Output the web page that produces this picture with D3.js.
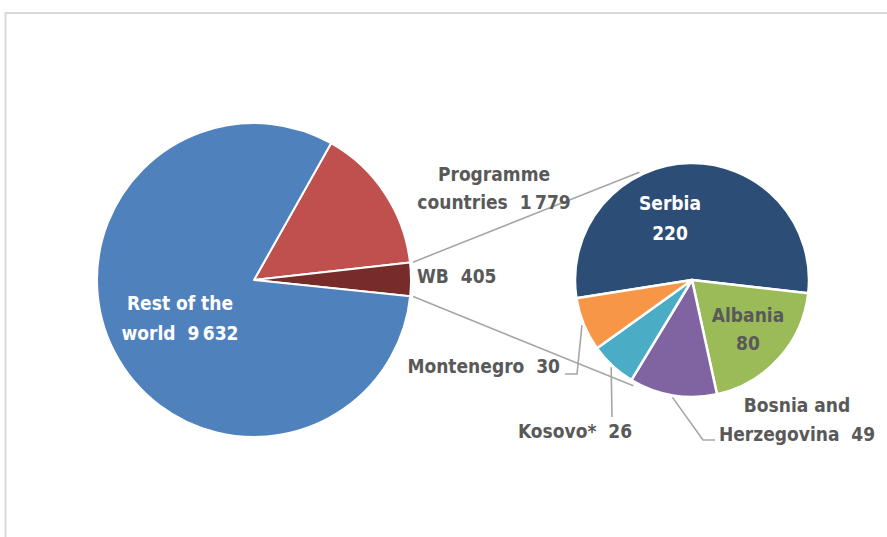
<!DOCTYPE html>
<html>
<head>
<meta charset="utf-8">
<script src="https://cdn.jsdelivr.net/npm/d3@7"></script>
<style>
  body { margin: 0; background: #ffffff; }
  text { font-family: "DejaVu Sans Condensed", "DejaVu Sans", sans-serif; font-weight: bold; white-space: pre; }
</style>
</head>
<body>
<div id="chart"></div>
<script>
// main pie data
const mainCategories = ["Programme countries", "WB", "Rest of the world"];
const mainValues = [1779, 405, 9632];
const mainBreaks = [["Programme", "countries"], ["WB"], ["Rest of the", "world"]];
// WB breakdown
const wbCategories = ["Serbia", "Albania", "Bosnia and Herzegovina", "Kosovo*", "Montenegro"];
const wbValues = [220, 80, 49, 26, 30];
const wbBreaks = [["Serbia", ""], ["Albania", ""], ["Bosnia and", "Herzegovina"], ["Kosovo*"], ["Montenegro"]];

const mainColors = ["#C0504D", "#772C2A", "#4F81BD"];
const wbColors = ["#2C4D75", "#9BBB59", "#8064A2", "#4BACC6", "#F79646"];

const width = 887, height = 537;
const textGray = "#595959", lineGray = "#A6A6A6";
const deg = Math.PI / 180;

const fmt = d3.formatLocale({decimal: ".", thousands: "\u2009", grouping: [3], currency: ["", ""]}).format(",d");

const svg = d3.select("#chart")
    .append("svg")
    .attr("width", width)
    .attr("height", height);

// chart area frame (runs off the right and bottom)
svg.append("rect")
    .attr("x", 5.5)
    .attr("y", 13)
    .attr("width", 1000)
    .attr("height", 1000)
    .attr("fill", "none")
    .attr("stroke", "#D9D9D9")
    .attr("stroke-width", 2);

const main = {cx: 254, cy: 280, r: 157};
const sub = {cx: 692, cy: 280, r: 117};

const mainPie = d3.pie().sort(null).startAngle(29.4 * deg).endAngle(29.4 * deg + 2 * Math.PI);
const subPie = d3.pie().sort(null).startAngle(-99 * deg).endAngle(-99 * deg + 2 * Math.PI);

const mainArcs = mainPie(mainValues);
const subArcs = subPie(wbValues);

const mainArc = d3.arc().innerRadius(0).outerRadius(main.r);
const subArc = d3.arc().innerRadius(0).outerRadius(sub.r);

function polar(p, a, r) {
    return [p.cx + r * Math.sin(a), p.cy - r * Math.cos(a)];
}

// connectors from WB slice to second pie
const wb = mainArcs[1];
const connectors = [
    [polar(main, wb.startAngle, main.r + 3), polar(sub, 334 * deg, sub.r + 3)],
    [polar(main, wb.endAngle, main.r + 3), polar(sub, 209 * deg, sub.r + 4)]
];
svg.append("g")
    .selectAll("line")
    .data(connectors)
    .enter()
    .append("line")
    .attr("x1", d => d[0][0])
    .attr("y1", d => d[0][1])
    .attr("x2", d => d[1][0])
    .attr("y2", d => d[1][1])
    .attr("stroke", lineGray)
    .attr("stroke-width", 1.6);

// pies
svg.append("g")
    .attr("transform", `translate(${main.cx},${main.cy})`)
    .selectAll("path")
    .data(mainArcs)
    .enter()
    .append("path")
    .attr("d", mainArc)
    .attr("fill", (d, i) => mainColors[i])
    .attr("stroke", "#ffffff")
    .attr("stroke-width", 2)
    .attr("stroke-linejoin", "round");

svg.append("g")
    .attr("transform", `translate(${sub.cx},${sub.cy})`)
    .selectAll("path")
    .data(subArcs)
    .enter()
    .append("path")
    .attr("d", subArc)
    .attr("fill", (d, i) => wbColors[i])
    .attr("stroke", "#ffffff")
    .attr("stroke-width", 2.5)
    .attr("stroke-linejoin", "round");

// label layout, offsets from the pie centre
const mainLayout = [
    {dx: 240, dy: -99, lh: 28, anchor: "middle", fill: textGray},
    {dx: 163, dy: 3, lh: 28, anchor: "start", fill: textGray},
    {dx: -74, dy: 30, lh: 30, anchor: "middle", fill: "#ffffff"}
];
const subLayout = [
    {dx: -22, dy: -70, lh: 30, anchor: "middle", fill: "#ffffff"},
    {dx: 56, dy: 42, lh: 28, anchor: "middle", fill: textGray},
    {dx: 105, dy: 132, lh: 29, anchor: "middle", fill: textGray, leader: [[11, 160], [23, 160]]},
    {dx: -117, dy: 158, lh: 29, anchor: "middle", fill: textGray, leader: [[-80, 137]]},
    {dx: -132, dy: 93, lh: 29, anchor: "end", fill: textGray, leader: [[-115, 94], [-127, 94]]}
];

function labelLines(breaks, value) {
    const lines = breaks.slice();
    const last = lines.length - 1;
    lines[last] = (lines[last] + "  " + fmt(value)).trim();
    return lines;
}

function drawLabels(p, arcs, cats, breaks, layout) {
    const g = svg.append("g").attr("transform", `translate(${p.cx},${p.cy})`);

    // leader lines
    arcs.forEach((d, i) => {
        const L = layout[i];
        if (!L.leader) return;
        const mid = (d.startAngle + d.endAngle) / 2;
        const start = [(p.r + 2) * Math.sin(mid), -(p.r + 2) * Math.cos(mid)];
        g.append("path")
            .attr("d", d3.line()([start].concat(L.leader)))
            .attr("fill", "none")
            .attr("stroke", lineGray)
            .attr("stroke-width", 1.6);
    });

    arcs.forEach((d, i) => {
        const L = layout[i];
        const t = g.append("text")
            .attr("class", "label")
            .attr("text-anchor", L.anchor)
            .attr("fill", L.fill)
            .attr("font-size", 19);
        labelLines(breaks[i], d.data).forEach((line, j) => {
            t.append("tspan")
                .attr("x", L.dx)
                .attr("y", L.dy + j * L.lh)
                .text(line);
        });
    });
}

drawLabels(main, mainArcs, mainCategories, mainBreaks, mainLayout);
drawLabels(sub, subArcs, wbCategories, wbBreaks, subLayout);
</script>
</body>
</html>
